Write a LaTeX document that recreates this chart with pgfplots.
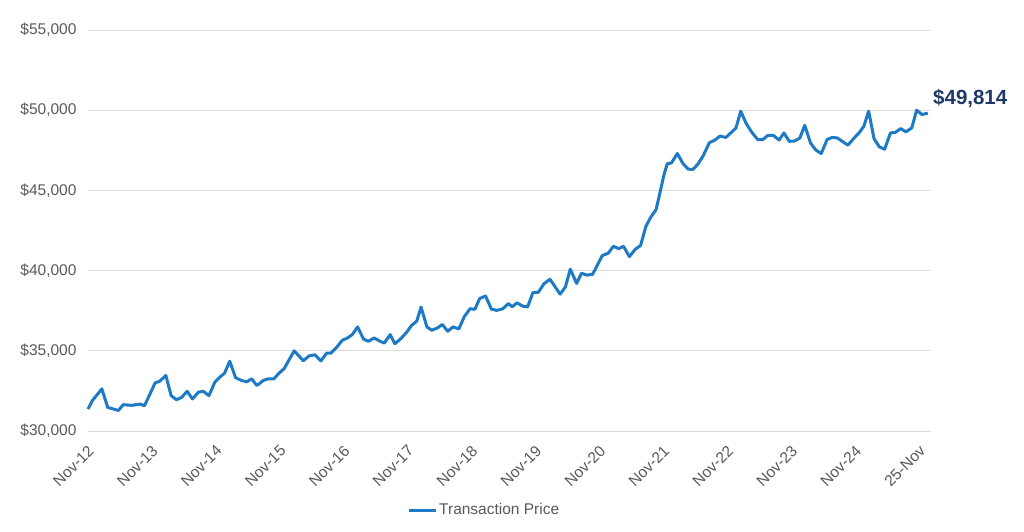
\documentclass[border=0pt]{standalone}
\usepackage{fontspec}
\setmainfont{Liberation Sans}
\usepackage{pgfplots}
\pgfplotsset{compat=1.18}
\definecolor{linecol}{HTML}{1F7AC6}
\definecolor{gridcol}{HTML}{DCDCDC}
\definecolor{tickcol}{HTML}{595959}
\definecolor{annot}{HTML}{1F3A68}
\begin{document}
\begin{tikzpicture}
\begin{axis}[
  name=ax,
  scale only axis,
  width=843bp, height=401bp,
  xmin=0, xmax=158.2, ymin=30000, ymax=55000,
  axis line style={draw=none},
  clip=false,
  scaled ticks=false,
  ytick={30000,35000,40000,45000,50000,55000},
  xtick={0.6,12.6,24.6,36.6,48.6,60.6,72.6,84.6,96.6,108.6,120.6,132.6,144.6,156.6},
  xticklabels={Nov-12,Nov-13,Nov-14,Nov-15,Nov-16,Nov-17,Nov-18,Nov-19,Nov-20,Nov-21,Nov-22,Nov-23,Nov-24,25-Nov},
  ymajorgrids, grid style={gridcol, line width=0.9bp},
  major tick length=0pt,
  tick style={draw=none},
  /pgf/number format/assume math mode=true,
  /pgf/number format/fixed,
  /pgf/number format/1000 sep={,},
  yticklabel={\$\pgfmathprintnumber{\tick}},
  yticklabel style={font=\fontsize{15.5bp}{18bp}\selectfont, text=tickcol, anchor=east, xshift=-8bp},
  xticklabel style={yshift=-17bp, rotate=45, anchor=east, inner sep=0pt, font=\fontsize{15.5bp}{18bp}\selectfont, text=tickcol},
  legend style={at={(0.470,-0.197)}, anchor=center, draw=none, fill=none, font=\fontsize{15.5bp}{18bp}\selectfont, text=tickcol, inner sep=0pt},
  legend cell align=left,
  legend image code/.code={\draw[#1, line width=3bp] (0bp,0bp) -- (27bp,0bp);},
]
\addplot[linecol, line width=3bp, line join=round] coordinates {
(0,31365) (0.8,31890) (2.6,32625) (3.7,31470) (5.7,31280) (6.6,31640) (8.2,31600) (9.8,31680) (10.6,31575)
(12.6,33000) (13.5,33110) (14.6,33465) (15.6,32205) (16.6,31950) (17.6,32100) (18.6,32480) (19.6,31995)
(20.7,32415) (21.6,32480) (22.7,32205) (23.8,33045) (24.8,33380) (25.6,33590) (26.6,34350) (27.7,33320)
(28.8,33150) (29.8,33065) (30.7,33255) (31.7,32835) (32.9,33150) (33.8,33255) (34.9,33255) (35.8,33590)
(36.8,33885) (38.7,35000) (40.4,34380) (41.5,34685) (42.6,34750) (43.7,34370) (44.8,34855) (45.6,34855)
(46.7,35230) (47.7,35650) (48.7,35800) (49.6,36010) (50.6,36490) (51.7,35735) (52.6,35590) (53.7,35800)
(54.6,35630) (55.6,35480) (56.7,36010) (57.6,35440) (58.7,35755) (59.8,36155) (60.7,36575) (61.7,36850)
(62.5,37730) (63.6,36490) (64.5,36280) (65.6,36430) (66.5,36640) (67.5,36220) (68.5,36490) (69.6,36365)
(70.6,37120) (71.7,37625) (72.6,37585) (73.5,38255) (74.6,38420) (75.7,37600) (76.7,37520) (77.8,37610)
(78.9,37945) (79.6,37740) (80.5,37990) (81.6,37780) (82.5,37740) (83.5,38630) (84.5,38650) (85.6,39190)
(86.7,39460) (88.6,38530) (89.6,38985) (90.5,40090) (91.7,39200) (92.6,39835) (93.6,39720) (94.7,39770)
(96.5,40935) (97.6,41080) (98.6,41515) (99.6,41370) (100.5,41515) (101.6,40870) (102.7,41330) (103.7,41565)
(104.7,42760) (105.6,43325) (106.6,43800) (107.5,45095) (108.1,45990) (108.7,46660) (109.5,46715) (110.6,47300)
(111.6,46700) (112.6,46330) (113.5,46300) (114.5,46655) (115.5,47190) (116.6,47970) (117.7,48150) (118.6,48390)
(119.7,48300) (120.7,48610) (121.6,48890) (122.5,49940) (123.5,49180) (124.6,48610) (125.7,48160) (126.6,48160)
(127.6,48430) (128.6,48430) (129.7,48140) (130.6,48580) (131.6,48060) (132.6,48080) (133.6,48270) (134.5,49060)
(135.6,47950) (136.6,47510) (137.6,47300) (138.7,48170) (139.6,48295) (140.6,48275) (141.7,48025) (142.6,47820)
(143.8,48275) (144.7,48585) (145.6,49000) (146.5,49940) (147.5,48235) (148.5,47715) (149.5,47570) (150.6,48585)
(151.5,48610) (152.5,48855) (153.5,48650) (154.6,48900) (155.5,50000) (156.5,49730) (157.6,49814)
};
\addlegendentry{Transaction Price}
\node[anchor=west, inner sep=0pt, xshift=2bp, font=\bfseries\fontsize{20.5bp}{24bp}\selectfont, text=annot] at (axis cs:158.2,50700) {\$49,814};
\end{axis}
\path ([shift={(-88bp,-101bp)}]ax.south west) rectangle ++(1024bp,532bp);
\end{tikzpicture}
\end{document}
